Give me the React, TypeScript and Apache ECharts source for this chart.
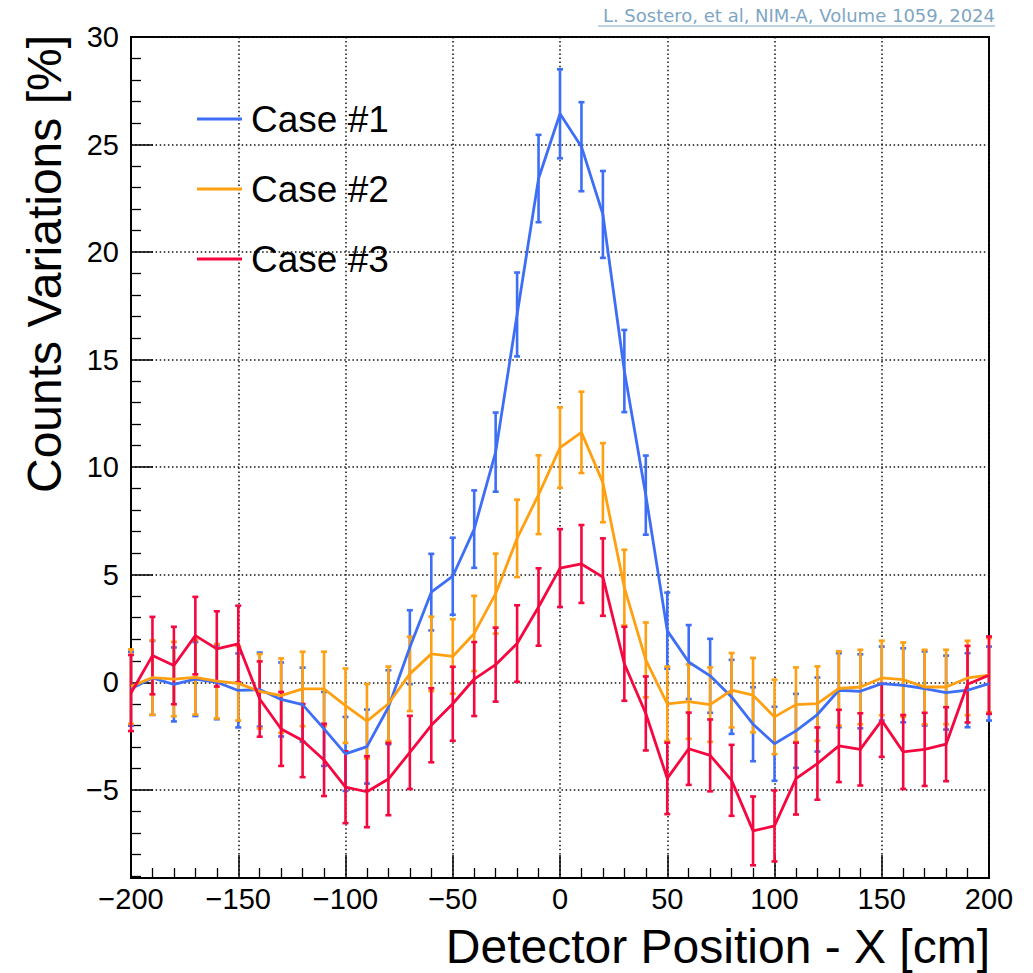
import React, { useEffect, useRef } from 'react';
import * as echarts from 'echarts';

const positions = [
  -200, -190, -180, -170, -160, -150, -140, -130, -120, -110, -100, -90, -80, -70, -60, -50, -40, -30, -20, -10,
  0, 10, 20, 30, 40, 50, 60, 70, 80, 90, 100, 110, 120, 130, 140, 150, 160, 170, 180, 190, 200,
];

const case1 = [
  -0.3, 0.2, -0.1, 0.15, 0.0, -0.38, -0.34, -0.8, -1.04, -2.17, -3.33, -2.99, -1.16, 1.63, 4.19, 4.93, 7.12, 10.7, 17.1, 23.42,
  26.43, 24.9, 21.75, 14.47, 8.7, 2.4, 0.94, 0.3, -0.68, -1.95, -2.86, -2.26, -1.5, -0.37, -0.42, -0.06, -0.14, -0.29, -0.48, -0.37, -0.06,
];
const case1Err = [
  1.72, 1.72, 1.72, 1.72, 1.72, 1.72, 1.72, 1.72, 1.72, 1.72, 1.72, 1.72, 1.72, 1.72, 1.78, 1.79, 1.8, 1.84, 1.95, 2.03,
  2.07, 2.07, 2.02, 1.91, 1.84, 1.77, 1.72, 1.72, 1.72, 1.72, 1.72, 1.72, 1.72, 1.72, 1.72, 1.72, 1.72, 1.72, 1.72, 1.72, 1.72,
];

const case2 = [
  -0.2, 0.22, 0.15, 0.23, 0.05, -0.05, -0.42, -0.62, -0.31, -0.31, -1.09, -1.81, -1.0, 0.39, 1.32, 1.2, 2.27, 4.12, 6.69, 8.72,
  10.91, 11.62, 9.28, 4.4, 1.04, -1.0, -0.9, -1.04, -0.37, -0.6, -1.61, -1.04, -0.99, -0.29, -0.22, 0.2, 0.12, -0.22, -0.22, 0.2, 0.33,
];
const case2Err = [
  1.73, 1.73, 1.73, 1.73, 1.73, 1.73, 1.73, 1.73, 1.73, 1.73, 1.73, 1.73, 1.73, 1.73, 1.73, 1.73, 1.75, 1.86, 1.8, 1.83,
  1.87, 1.89, 1.84, 1.76, 1.74, 1.73, 1.73, 1.73, 1.73, 1.73, 1.73, 1.73, 1.73, 1.73, 1.73, 1.73, 1.73, 1.73, 1.73, 1.73, 1.73,
];

const case3 = [
  -0.5, 1.24, 0.78, 2.17, 1.55, 1.78, -0.78, -2.17, -2.71, -3.61, -4.88, -5.09, -4.5, -3.26, -2.0, -1.0, 0.15, 0.82, 1.8, 3.5,
  5.31, 5.5, 4.89, 0.86, -1.45, -4.47, -3.09, -3.4, -4.56, -6.91, -6.68, -4.48, -3.78, -2.96, -3.12, -1.77, -3.24, -3.12, -2.88, -0.09, 0.33,
];
const case3Err = [
  1.77, 1.8, 1.8, 1.8, 1.75, 1.78, 1.75, 1.72, 1.7, 1.68, 1.67, 1.65, 1.68, 1.7, 1.72, 1.72, 1.72, 1.72, 1.78, 1.8,
  1.81, 1.81, 1.8, 1.72, 1.72, 1.66, 1.68, 1.67, 1.65, 1.6, 1.65, 1.67, 1.68, 1.68, 1.68, 1.7, 1.72, 1.7, 1.72, 1.78, 1.8,
];

const caseNames = ['Case #1', 'Case #2', 'Case #3'];
const caseColors = ['#3d6ef5', '#ffa012', '#f5073f'];

const xTitle = 'Detector Position - X [cm]';
const yTitle = 'Counts Variations [%]';
const citation = 'L. Sostero, et al, NIM-A, Volume 1059, 2024';

const FONT = '"Liberation Sans", Arial, Helvetica, sans-serif';

const fmt = (v: number) => (v < 0 ? '\u2212' + Math.abs(v) : String(v));

function lineSeries(name: string, color: string, vals: number[]) {
  return {
    type: 'line',
    name,
    data: positions.map((x, i) => [x, vals[i]]),
    symbol: 'none',
    showSymbol: false,
    lineStyle: { color, width: 2.8 },
    itemStyle: { color },
    silent: true,
  };
}

function errorSeries(name: string, color: string, vals: number[], errs: number[]) {
  return {
    type: 'custom',
    name: name + ' errors',
    data: positions.map((x, i) => [x, vals[i] - errs[i], vals[i] + errs[i]]),
    encode: { x: 0, y: [1, 2] },
    silent: true,
    renderItem: (_params: any, api: any) => {
      const x = api.value(0);
      const lo = api.coord([x, api.value(1)]);
      const hi = api.coord([x, api.value(2)]);
      const cw = 3;
      const style = { stroke: color, lineWidth: 2.6, fill: 'none' };
      return {
        type: 'group',
        children: [
          { type: 'line', shape: { x1: lo[0], y1: lo[1], x2: hi[0], y2: hi[1] }, style },
          { type: 'line', shape: { x1: lo[0] - cw, y1: lo[1], x2: lo[0] + cw, y2: lo[1] }, style },
          { type: 'line', shape: { x1: hi[0] - cw, y1: hi[1], x2: hi[0] + cw, y2: hi[1] }, style },
        ],
      };
    },
  };
}

export default function App() {
  const ref = useRef<HTMLDivElement>(null);
  useEffect(() => {
    if (!ref.current) return;
    const chart = echarts.init(ref.current, null, { renderer: 'svg' });
    const dotted = { color: '#111', width: 1.5, type: [1.5, 2.6] };
    const option: any = {
      animation: false,
      backgroundColor: '#ffffff',
      grid: {
        left: 131,
        top: 37,
        right: 44,
        bottom: 95,
        show: true,
        borderColor: '#000',
        borderWidth: 2,
        backgroundColor: 'transparent',
      },
      legend: {
        data: caseNames.map((n) => ({ name: n, icon: 'rect' })),
        orient: 'vertical',
        left: 197,
        top: 99,
        padding: 0,
        itemWidth: 45,
        itemHeight: 3,
        itemGap: 30,
        textStyle: {
          fontFamily: FONT,
          fontSize: 37,
          color: '#000',
          lineHeight: 40,
          padding: [0, 0, 0, 4],
        },
        selectedMode: false,
      },
      xAxis: {
        type: 'value',
        min: -200,
        max: 200,
        interval: 50,
        axisLine: { show: true, onZero: false, lineStyle: { color: '#000', width: 2 } },
        axisTick: { show: true, inside: true, length: 23, lineStyle: { color: '#000', width: 1.5 } },
        minorTick: { show: true, splitNumber: 5, length: 10, lineStyle: { color: '#000', width: 1.3 } },
        splitLine: { show: true, lineStyle: dotted },
        axisLabel: {
          fontFamily: FONT,
          fontSize: 29,
          color: '#000',
          margin: 6,
          formatter: (v: number) => fmt(v),
        },
      },
      yAxis: {
        type: 'value',
        min: -9.1,
        max: 30,
        splitNumber: 8,
        axisLine: { show: true, onZero: false, lineStyle: { color: '#000', width: 2 } },
        axisTick: { show: true, inside: true, length: 22, lineStyle: { color: '#000', width: 1.5 } },
        minorTick: { show: true, splitNumber: 5, length: 10, lineStyle: { color: '#000', width: 1.3 } },
        splitLine: { show: true, lineStyle: dotted },
        axisLabel: {
          fontFamily: FONT,
          fontSize: 29,
          color: '#000',
          margin: 12,
          formatter: (v: number) => (Math.abs(v % 5) < 1e-9 ? fmt(v) : ''),
        },
      },
      graphic: [
        {
          type: 'text',
          x: 44,
          y: 35,
          rotation: Math.PI / 2,
          style: {
            text: yTitle,
            fontFamily: FONT,
            fontSize: 48,
            fill: '#000',
            textAlign: 'right',
            textVerticalAlign: 'middle',
          },
        },
        {
          type: 'text',
          x: 990,
          y: 946,
          style: {
            text: xTitle,
            fontFamily: FONT,
            fontSize: 48,
            fill: '#000',
            textAlign: 'right',
            textVerticalAlign: 'middle',
          },
        },
        {
          type: 'text',
          x: 995,
          y: 15,
          style: {
            text: citation,
            fontFamily: '"DejaVu Sans", "Noto Sans", sans-serif',
            fontSize: 18,
            fill: '#7ea6c4',
            textAlign: 'right',
            textVerticalAlign: 'middle',
          },
        },
        {
          type: 'line',
          shape: { x1: 598, y1: 26, x2: 995, y2: 26 },
          style: { stroke: '#7ea6c4', lineWidth: 1.2 },
        },
      ],
      series: [
        errorSeries(caseNames[0], caseColors[0], case1, case1Err),
        lineSeries(caseNames[0], caseColors[0], case1),
        errorSeries(caseNames[1], caseColors[1], case2, case2Err),
        lineSeries(caseNames[1], caseColors[1], case2),
        errorSeries(caseNames[2], caseColors[2], case3, case3Err),
        lineSeries(caseNames[2], caseColors[2], case3),
      ],
    };
    chart.setOption(option);
    return () => chart.dispose();
  }, []);
  return (
    <div
      ref={ref}
      style={{ position: 'absolute', left: 0, top: 0, width: 1033, height: 973 }}
    />
  );
}
